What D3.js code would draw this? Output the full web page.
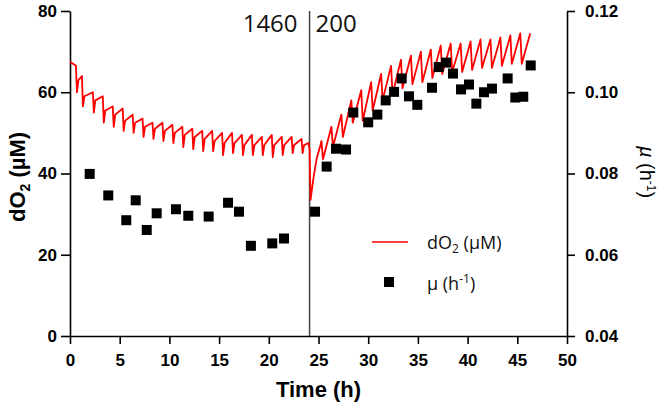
<!DOCTYPE html>
<html><head><meta charset="utf-8">
<script src="https://cdn.jsdelivr.net/npm/d3@7"></script>
<style>body{margin:0;background:#fff} svg{display:block}</style>
</head><body><svg id="chart" width="666" height="405"></svg>
<script>
// ---- data ----
const dO2Time = [0, 0.6, 0.7, 0.85, 1.2, 1.3, 1.45, 2.3, 2.4, 2.55, 3.3, 3.4, 3.55, 4.3, 4.4, 4.55, 5.3, 5.4, 5.55,
  6.3, 6.4, 6.55, 7.3, 7.4, 7.55, 8.3, 8.4, 8.55, 9.3, 9.4, 9.55, 10.3, 10.4, 10.55, 11.3, 11.4, 11.55,
  12.3, 12.4, 12.55, 13.3, 13.4, 13.55, 14.3, 14.4, 14.55, 15.3, 15.4, 15.55, 16.3, 16.4, 16.55,
  17.3, 17.4, 17.55, 18.3, 18.4, 18.55, 19.3, 19.4, 19.55, 20.3, 20.4, 20.55, 21.3, 21.4, 21.55,
  22.3, 22.4, 22.55, 23.3, 23.4, 23.55, 24.0, 24.1, 24.2, 24.5, 24.8, 25.2,
  25.3, 25.45, 26.3, 26.45, 27.3, 27.45, 28.3, 28.45, 29.3, 29.45, 30.3, 30.45, 31.3, 31.45, 32.3, 32.45,
  33.3, 33.45, 34.3, 34.45, 35.3, 35.45, 36.3, 36.45, 37.3, 37.45, 38.3, 38.45, 39.3, 39.45, 40.3, 40.45,
  41.3, 41.45, 42.3, 42.45, 43.3, 43.45, 44.3, 44.45, 45.3, 45.45, 46.3];
const dO2Value = [67.5, 66.5, 60, 63, 64, 56.5, 59, 60, 55, 58, 59, 52.5, 55.5, 56.5, 51.5, 54.5, 56, 50.5, 53,
  54.5, 50, 52.5, 53.5, 49, 51.5, 52.5, 48.5, 51, 52.5, 48, 50.5, 52, 47.5, 50, 51.5, 46.5, 49.5,
  51, 46, 49, 50.5, 45.5, 48.5, 50.5, 45.5, 48, 50, 44.5, 47.5, 50, 45, 47.5,
  49.5, 44.5, 47, 49.5, 44.5, 47, 49, 44.5, 47, 49.5, 44, 47, 49, 44.5, 47,
  49, 45, 47, 48.5, 45, 47, 47.5, 46, 33.5, 39, 43.5, 47,
  48, 43.5, 51.5, 46.5, 54.5, 49, 58, 52.5, 60.5, 53, 62.5, 55.5, 64.5, 58, 66.5, 59.5,
  68, 61, 69, 62, 70, 62.5, 70.5, 63.5, 71.5, 64.5, 72, 65, 72, 65, 72.5, 65.5,
  73, 66, 73, 66, 73.5, 66.5, 74, 67, 74.5, 67, 74.5];
const muTime = [1.98, 3.85, 5.66, 6.61, 7.72, 8.72, 10.66, 11.9, 13.95, 15.9, 17.0, 18.2, 20.35, 21.53,
  24.65, 25.82, 26.76, 27.77, 28.5, 30.0, 30.92, 31.76, 32.6, 33.37, 34.1, 34.94, 36.42, 37.09, 37.83,
  38.53, 39.34, 40.14, 40.88, 41.65, 42.45, 44.03, 44.8, 45.6, 46.35];
const muValue = [0.0799, 0.0746, 0.0685, 0.0734, 0.0661, 0.0702, 0.0712, 0.0696, 0.0694, 0.0728, 0.0706, 0.0622, 0.0628, 0.0640,
  0.0706, 0.0817, 0.0861, 0.0859, 0.0950, 0.0926, 0.0945, 0.0980, 0.1001, 0.1034, 0.0990, 0.0969, 0.1011, 0.1062, 0.1073,
  0.1046, 0.1007, 0.1019, 0.0972, 0.1000, 0.1009, 0.1034, 0.0987, 0.0989, 0.1066];
const timeTicks = [0, 5, 10, 15, 20, 25, 30, 35, 40, 45, 50];
const dO2Ticks = [0, 20, 40, 60, 80];
const muTicks = [0.04, 0.06, 0.08, 0.10, 0.12];
const switchTime = 24.1;
const phaseLabels = ["1460", "200"];

// ---- chart ----
const svg = d3.select("#chart");
const x = d3.scaleLinear().domain([0, 50]).range([70, 567]);
const yL = d3.scaleLinear().domain([0, 80]).range([336, 11]);
const yR = d3.scaleLinear().domain([0.04, 0.12]).range([336, 11]);
const bold = "'Liberation Sans', Arial, sans-serif";
const soft = "'Open Sans', 'Liberation Sans', sans-serif";

function styleAxis(g) {
  g.select(".domain").attr("stroke", "#000").attr("stroke-width", 1.6);
  g.selectAll(".tick line").attr("stroke", "#000").attr("stroke-width", 1.6);
  g.selectAll(".tick text").attr("font-family", bold).attr("font-weight", "bold").attr("font-size", 17).attr("fill", "#000");
}

svg.append("g").attr("transform", "translate(0,336)")
  .call(d3.axisBottom(x).tickValues(timeTicks).tickSize(8).tickSizeOuter(0).tickPadding(10).tickFormat(d3.format("d")))
  .call(styleAxis);
svg.append("g").attr("transform", "translate(70,0)")
  .call(d3.axisLeft(yL).tickValues(dO2Ticks).tickSize(9).tickSizeOuter(0).tickPadding(4).tickFormat(d3.format("d")))
  .call(styleAxis);
svg.append("g").attr("transform", "translate(567,0)")
  .call(d3.axisRight(yR).tickValues(muTicks).tickSize(8).tickSizeOuter(0).tickPadding(10).tickFormat(d3.format(".2f")))
  .call(styleAxis);

// switch line
svg.append("line").attr("x1", x(switchTime)).attr("x2", x(switchTime)).attr("y1", yL(80)).attr("y2", yL(0))
  .attr("stroke", "#444").attr("stroke-width", 1.5);
svg.append("text").attr("x", x(switchTime) - 12).attr("y", 32).attr("text-anchor", "end")
  .attr("font-family", soft).attr("font-size", 24).attr("fill", "#111").text(phaseLabels[0]);
svg.append("text").attr("x", x(switchTime) + 6).attr("y", 32).attr("text-anchor", "start")
  .attr("font-family", soft).attr("font-size", 24).attr("fill", "#111").text(phaseLabels[1]);

// dO2 line
const lineData = dO2Time.map((t, i) => [t, dO2Value[i]]);
svg.append("path").datum(lineData)
  .attr("fill", "none").attr("stroke", "#ff0000").attr("stroke-width", 1.8).attr("stroke-linejoin", "round")
  .attr("d", d3.line().x(d => x(d[0])).y(d => yL(d[1])));

// mu squares
const sq = 10;
svg.append("g").selectAll("rect").data(muTime.map((t, i) => [t, muValue[i]])).join("rect")
  .attr("x", d => x(d[0]) - sq / 2).attr("y", d => yR(d[1]) - sq / 2)
  .attr("width", sq).attr("height", sq).attr("fill", "#000");

// axis titles
svg.append("text").attr("x", x(25)).attr("y", 397).attr("text-anchor", "middle")
  .attr("font-family", bold).attr("font-weight", "bold").attr("font-size", 22).text("Time (h)");
const lt = svg.append("text").attr("transform", "translate(25,177) rotate(-90)").attr("text-anchor", "middle")
  .attr("font-family", bold).attr("font-weight", "bold").attr("font-size", 22);
lt.append("tspan").text("dO");
lt.append("tspan").attr("font-size", 14).attr("dy", 5).text("2");
lt.append("tspan").attr("dy", -5).text(" (µM)");
const rt = svg.append("text").attr("transform", "translate(640,172) rotate(90)").attr("text-anchor", "middle")
  .attr("font-family", bold).attr("font-size", 20);
rt.append("tspan").attr("font-style", "italic").text("µ");
rt.append("tspan").text(" (h");
rt.append("tspan").attr("font-size", 12).attr("dy", -7).text("-1");
rt.append("tspan").attr("dy", 7).text(")");

// legend
svg.append("line").attr("x1", 372).attr("x2", 408).attr("y1", 242).attr("y2", 242)
  .attr("stroke", "#ff0000").attr("stroke-width", 1.6);
const l1 = svg.append("text").attr("x", 427).attr("y", 249).attr("font-family", soft).attr("font-size", 18).attr("fill", "#111");
l1.append("tspan").text("dO");
l1.append("tspan").attr("font-size", 12).attr("dy", 4).text("2");
l1.append("tspan").attr("dy", -4).text(" (µM)");
svg.append("rect").attr("x", 389 - sq / 2).attr("y", 282 - sq / 2).attr("width", sq).attr("height", sq).attr("fill", "#000");
const l2 = svg.append("text").attr("x", 427).attr("y", 290).attr("font-family", soft).attr("font-size", 18).attr("fill", "#111");
l2.append("tspan").text("µ (h");
l2.append("tspan").attr("font-size", 12).attr("dy", -7).text("-1");
l2.append("tspan").attr("dy", 7).text(")");
</script></body></html>
